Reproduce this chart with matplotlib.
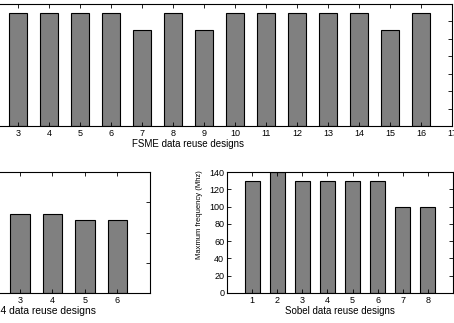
import matplotlib
matplotlib.use('Agg')
import matplotlib.pyplot as plt

plt.rcParams['font.family'] = ['Liberation Sans', 'DejaVu Sans']

# FSME designs (top)
fsme_designs = [3, 4, 5, 6, 7, 8, 9, 10, 11, 12, 13, 14, 15, 16]
fsme_freq = [130, 130, 130, 130, 110, 130, 110, 130, 130, 130, 130, 130, 110, 130]
fsme_ticks = list(range(3, 18))

# H.264 designs (bottom left)
h264_designs = [3, 4, 5, 6]
h264_freq = [130, 130, 120, 120]
h264_ticks = [3, 4, 5, 6]

# Sobel designs (bottom right)
sobel_designs = [1, 2, 3, 4, 5, 6, 7, 8]
sobel_freq = [130, 140, 130, 130, 130, 130, 100, 100]
sobel_yticks = [0, 20, 40, 60, 80, 100, 120, 140]

W, H = 454, 323
fig = plt.figure(figsize=(W / 100, H / 100), dpi=100)


def box(l, r, t, b):
    return [l / W, (H - b) / H, (r - l) / W, (b - t) / H]


def style(ax):
    ax.tick_params(direction='in', length=3, width=0.6, labelsize=6.5,
                   top=True, right=True, pad=2)
    for s in ax.spines.values():
        s.set_linewidth(0.8)


bar_kw = dict(width=0.6, color='#808080', edgecolor='black', linewidth=0.8)

# top
ax1 = fig.add_axes(box(-75, 452, 4, 126))
ax1.bar(fsme_designs, fsme_freq, **bar_kw)
ax1.set_xlim(0, 17)
ax1.set_ylim(0, 140)
ax1.set_xticks(fsme_ticks)
ax1.set_yticks(sobel_yticks)
ax1.set_xlabel('FSME data reuse designs', fontsize=7, labelpad=1)
style(ax1)

# bottom left
ax2 = fig.add_axes(box(-77.5, 150, 172, 293))
ax2.bar(h264_designs, h264_freq, **bar_kw)
ax2.set_xlim(0, 7)
ax2.set_ylim(0, 200)
ax2.set_xticks(h264_ticks)
ax2.set_yticks([0, 50, 100, 150, 200])
ax2.set_xlabel('H.264 data reuse designs', fontsize=7.4, ha='right')
ax2.xaxis.set_label_coords((96 + 77.5) / 227.5, -0.105)
style(ax2)

# bottom right
ax3 = fig.add_axes(box(227, 453, 172, 293))
ax3.bar(sobel_designs, sobel_freq, **bar_kw)
ax3.set_xlim(0, 9)
ax3.set_ylim(0, 140)
ax3.set_xticks(sobel_designs)
ax3.set_yticks(sobel_yticks)
ax3.set_xlabel('Sobel data reuse designs', fontsize=7, labelpad=1)
ax3.set_ylabel('Maxmum frequency (Mhz)', fontsize=5.5)
ax3.yaxis.set_label_coords(-0.105, 0.645)
style(ax3)

fig.savefig('out.png', dpi=100)
